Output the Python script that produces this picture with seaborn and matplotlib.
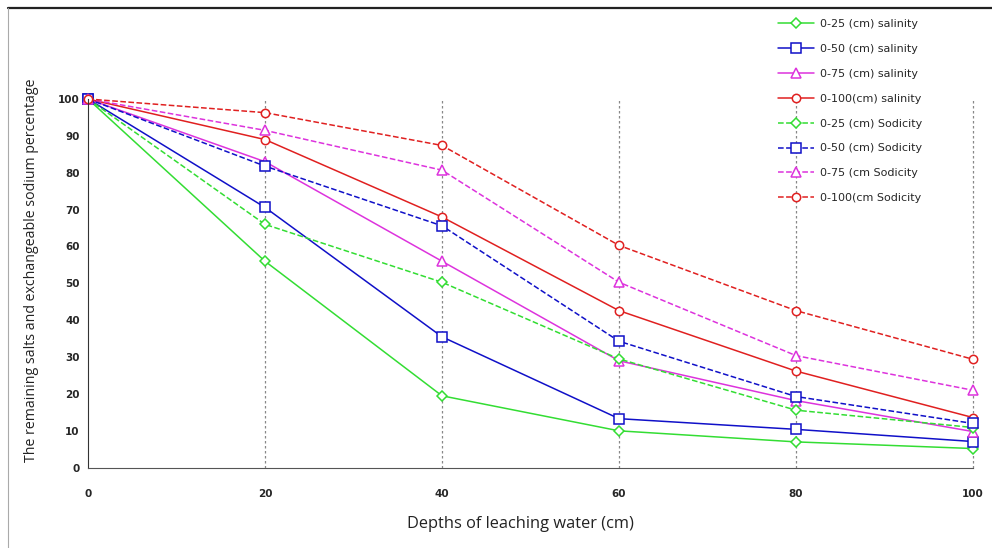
import matplotlib
matplotlib.use("Agg")
import matplotlib.pyplot as plt
import seaborn as sns
from matplotlib.lines import Line2D

# Depth of leaching water (cm) and remaining percentage per soil layer
depth = [0, 20, 40, 60, 80, 100]

sal_25 = [100, 56.0, 19.5, 10.0, 7.0, 5.2]
sal_50 = [100, 70.6, 35.5, 13.3, 10.4, 7.1]
sal_75 = [100, 83.0, 56.0, 29.0, 18.2, 9.8]
sal_100 = [100, 89.0, 68.0, 42.6, 26.2, 13.6]
sod_25 = [100, 66.0, 50.3, 29.5, 15.6, 10.9]
sod_50 = [100, 81.8, 65.6, 34.3, 19.3, 12.0]
sod_75 = [100, 91.5, 80.7, 50.3, 30.4, 21.0]
sod_100 = [100, 96.3, 87.4, 60.3, 42.6, 29.4]

labels = ['0-25 (cm) salinity', '0-50 (cm) salinity', '0-75 (cm) salinity', '0-100(cm) salinity',
          '0-25 (cm) Sodicity', '0-50 (cm) Sodicity', '0-75 (cm Sodicity', '0-100(cm Sodicity']
series = [sal_25, sal_50, sal_75, sal_100, sod_25, sod_50, sod_75, sod_100]

green = '#33dd33'
blue = '#1010c8'
magenta = '#dd33dd'
red = '#e02020'
colors = [green, blue, magenta, red] * 2
markers = ['D', 's', '^', 'o'] * 2
msizes = [5, 7, 7, 6] * 2
styles = ['-'] * 4 + ['--'] * 4

sns.set_style('white')
plt.rcParams['font.family'] = ['DejaVu Sans']

fig = plt.figure(figsize=(9.92, 5.48), dpi=100)
ax = fig.add_axes([88 / 992, 1 - 467.7 / 548, (973 - 88) / 992, (467.7 - 99) / 548])

for vals, lab, c, m, ms, ls in zip(series, labels, colors, markers, msizes, styles):
    sns.lineplot(x=depth, y=vals, ax=ax, color=c, marker=m, markersize=ms,
                 markerfacecolor='white', markeredgecolor=c, markeredgewidth=1.1,
                 linestyle=ls, linewidth=1.1, label=lab, clip_on=False,
                 dashes=False if ls == '-' else (6, 3))

for xv in [20, 40, 60, 80, 100]:
    ax.axvline(xv, color='#888888', linestyle=(0, (2, 2)), linewidth=0.9, zorder=0, clip_on=False)

ax.set_xlim(0, 100)
ax.set_ylim(0, 100)
ax.set_xticks(depth)
ax.set_yticks(range(0, 101, 10))
ax.tick_params(axis='both', labelsize=7.5, length=3, width=0.8, direction='out', color='#333333')
ax.tick_params(axis='x', pad=12)
ax.tick_params(axis='y', pad=3)
for t in ax.get_xticklabels() + ax.get_yticklabels():
    t.set_fontweight('bold')
sns.despine(ax=ax)
ax.spines['left'].set_color('#333333')
ax.spines['bottom'].set_color('#555555')
ax.set_xlabel('')
ax.set_ylabel('')

fig.text(32 / 992, 1 - 270 / 548, 'The remaining salts and exchangeable sodium percentage',
         rotation=90, ha='center', va='center', fontsize=10.2, family='Open Sans', color='#222222')
fig.text(520 / 992, 1 - 524 / 548, 'Depths of leaching water (cm)',
         ha='center', va='center', fontsize=11.8, family='Open Sans', color='#222222')

handles, labs = ax.get_legend_handles_labels()
ax.legend(handles, labs, loc='upper left', bbox_to_anchor=(768 / 992, 1 - 9 / 548),
          bbox_transform=fig.transFigure, frameon=False, fontsize=8,
          handlelength=3.2, labelspacing=1.34, handletextpad=0.6)

# frame edges around the figure
fig.add_artist(Line2D([8 / 992, 1], [1 - 8 / 548, 1 - 8 / 548], color='#222222', linewidth=1.6))
fig.add_artist(Line2D([8 / 992, 8 / 992], [0, 1 - 8 / 548], color='#aaaaaa', linewidth=0.8))

fig.savefig('out.png', dpi=100)
